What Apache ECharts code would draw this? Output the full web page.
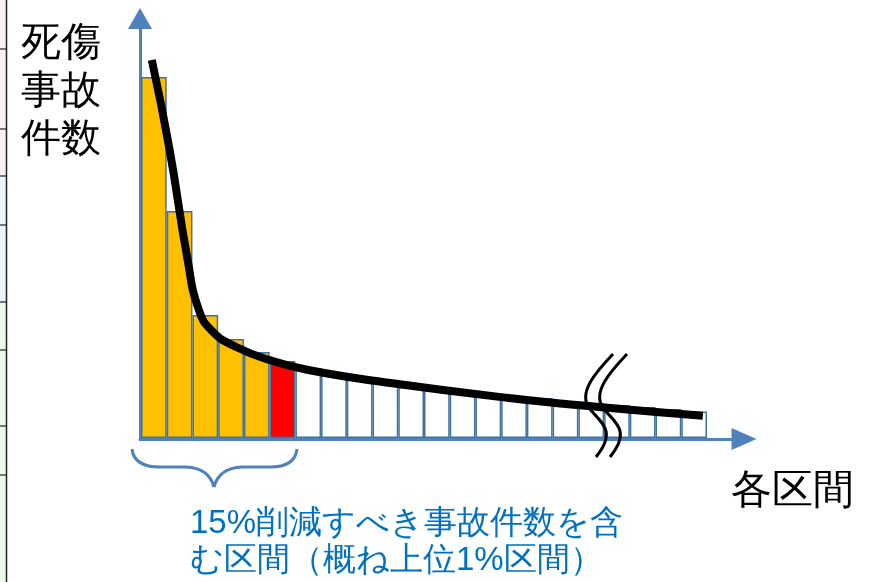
<!DOCTYPE html>
<html>
<head>
<meta charset="utf-8">
<script src="https://cdn.jsdelivr.net/npm/echarts@6/dist/echarts.min.js"></script>
<style>
  html, body { margin: 0; padding: 0; background: #fff; }
  #chart { width: 874px; height: 582px; }
</style>
</head>
<body>
<div id="chart"></div>
<script>
// 区間ごとの死傷事故件数（相対値、図から読み取り）
const categories = ['1','2','3','4','5','6','7','8','9','10','11','12','13','14','15','16','17','18','19','20','21','22'];
const accidentCounts = [361, 227, 123, 99, 86, 77, 70, 65, 59, 55, 51, 48.5, 46, 44, 42, 40, 37, 35, 33, 31, 29, 26.5];
const topBarCount = 5;      // 上位区間（オレンジ）
const boundaryBarIndex = 5; // 境界の区間（赤）

// 近似曲線（x は区間インデックス）
const curveX = [-0.08, 0.6, 1.3, 1.75, 2.3, 3.2, 4.5, 6.0, 9.2, 13.8, 17.3, 21.34];
const curveY = [378, 290, 180, 128, 106, 91, 78, 68, 55, 40, 31, 22.3];

const yLabel = '死傷\n事故\n件数';
const xLabel = '各区間';
const noteText = '15%削減すべき事故件数を含\nむ区間（概ね上位1%区間）';

const AXIS_BLUE = '#4F81BD';
const BORDER_BLUE = '#41719C';
const FONT = '"Noto Sans CJK JP", "Noto Sans", sans-serif';

const chart = echarts.init(document.getElementById('chart'));

const barData = accidentCounts.map((v, i) => ({
  value: v,
  itemStyle: {
    color: i < topBarCount ? '#FFC000' : (i === boundaryBarIndex ? '#FF0000' : '#FFFFFF')
  }
}));

const curveData = curveX.map((x, i) => [x, curveY[i]]);

// 左端の表の枠（切れ端）
const edgeLines = [49, 129, 176, 225, 302, 350, 426, 475];
const edgeGraphics = [
  { type: 'rect', shape: { x: 0, y: 0, width: 6, height: 176 }, style: { fill: '#FAF0FA' }, silent: true },
  { type: 'rect', shape: { x: 0, y: 176, width: 6, height: 126 }, style: { fill: '#EEF4FC' }, silent: true },
  { type: 'rect', shape: { x: 0, y: 302, width: 6, height: 280 }, style: { fill: '#EFFAEF' }, silent: true },
  { type: 'line', shape: { x1: 6.5, y1: 0, x2: 6.5, y2: 582 }, style: { stroke: '#222', lineWidth: 1.5 }, silent: true }
].concat(edgeLines.map(y => ({
  type: 'line', shape: { x1: 0, y1: y, x2: 6, y2: y }, style: { stroke: '#222', lineWidth: 1.2 }, silent: true
})));

// 中括弧
const braceStyle = { stroke: AXIS_BLUE, lineWidth: 3, fill: null };
const braceGraphics = [
  { type: 'bezierCurve', shape: { x1: 132, y1: 449, cpx1: 134, cpy1: 467, x2: 160, y2: 467 } },
  { type: 'line', shape: { x1: 160, y1: 467, x2: 186, y2: 467 } },
  { type: 'bezierCurve', shape: { x1: 186, y1: 467, cpx1: 209, cpy1: 468, x2: 214, y2: 487 } },
  { type: 'bezierCurve', shape: { x1: 214, y1: 487, cpx1: 219, cpy1: 468, x2: 242, y2: 467 } },
  { type: 'line', shape: { x1: 242, y1: 467, x2: 270, y2: 467 } },
  { type: 'bezierCurve', shape: { x1: 270, y1: 467, cpx1: 295, cpy1: 467, x2: 297, y2: 449 } }
].map(g => Object.assign(g, { style: braceStyle, z: 10, silent: true }));

// 省略記号（波線）
const waveStyle = { stroke: '#000', lineWidth: 3, fill: null };
const waveGraphics = [0, 14].flatMap(dx => [
  { type: 'bezierCurve', shape: { x1: 613 + dx, y1: 354, cpx1: 596 + dx, cpy1: 372, cpx2: 578 + dx, cpy2: 392, x2: 589 + dx, y2: 408 } },
  { type: 'bezierCurve', shape: { x1: 589 + dx, y1: 408, cpx1: 600 + dx, cpy1: 422, cpx2: 618 + dx, cpy2: 430, x2: 596 + dx, y2: 457 } }
]).map(g => Object.assign(g, { style: waveStyle, z: 12, silent: true }));

chart.setOption({
  animation: false,
  backgroundColor: '#fff',
  grid: [
    { left: 141, right: 167, top: 58, bottom: 144 },
    { left: 140, right: 130, top: 18.5, bottom: 143 }
  ],
  xAxis: [
    {
      type: 'category', gridIndex: 0, data: categories,
      axisLine: { show: false }, axisTick: { show: false }, axisLabel: { show: false }
    },
    {
      type: 'value', gridIndex: 0, min: -0.5, max: 21.5,
      show: false
    },
    {
      type: 'value', gridIndex: 1, min: 0, max: 1,
      axisLine: { show: true, symbol: ['none', 'triangle'], symbolSize: [22, 25], lineStyle: { color: AXIS_BLUE, width: 3 } },
      axisTick: { show: false }, axisLabel: { show: false }, splitLine: { show: false }
    }
  ],
  yAxis: [
    {
      type: 'value', gridIndex: 0, min: 0, max: 380,
      show: false
    },
    {
      type: 'value', gridIndex: 1, min: 0, max: 1,
      axisLine: { show: true, symbol: ['none', 'triangle'], symbolSize: [24, 21], lineStyle: { color: AXIS_BLUE, width: 3 } },
      axisTick: { show: false }, axisLabel: { show: false }, splitLine: { show: false }
    }
  ],
  series: [
    {
      type: 'bar', xAxisIndex: 0, yAxisIndex: 0,
      data: barData,
      barCategoryGap: 0,
      itemStyle: { borderColor: BORDER_BLUE, borderWidth: 1.5 },
      z: 3
    },
    {
      type: 'line', xAxisIndex: 1, yAxisIndex: 0,
      data: curveData,
      smooth: 0.5,
      symbol: 'none',
      clip: false,
      lineStyle: { color: '#000', width: 8 },
      z: 4
    }
  ],
  graphic: edgeGraphics.concat(braceGraphics, waveGraphics, [
    {
      type: 'text', left: 21, top: 20, z: 10,
      style: { text: yLabel, fontSize: 40, lineHeight: 48, fill: '#000', font: '40px ' + FONT }
    },
    {
      type: 'text', left: 731, top: 471, z: 10,
      style: { text: xLabel, fontSize: 41, fill: '#000', font: '41px ' + FONT }
    },
    {
      type: 'text', left: 190, top: 505, z: 10,
      style: { text: noteText, fontSize: 33, lineHeight: 37, fill: '#0070C0', font: '33px ' + FONT }
    }
  ])
});
</script>
</body>
</html>
